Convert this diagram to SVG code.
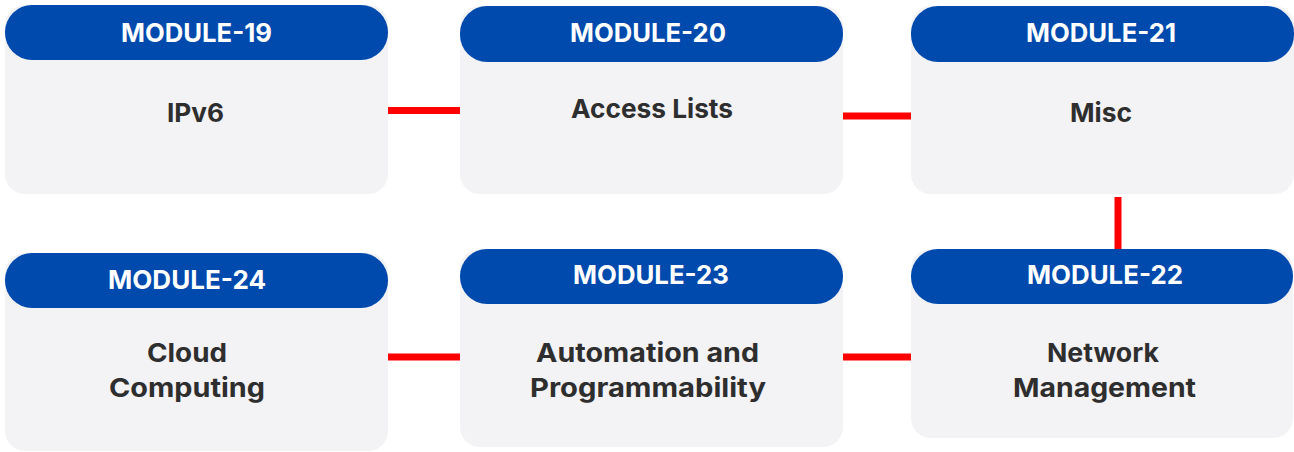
<svg xmlns="http://www.w3.org/2000/svg" width="1294" height="452" viewBox="0 0 1294 452">
<style>
.body{fill:#F3F2F5}
.head{fill:#004AAD}
.ht{font-family:Inter,"Open Sans","Liberation Sans",sans-serif;font-weight:700;font-size:26px;fill:#FFFFFF;text-anchor:middle}
.bt{font-family:Inter,"Open Sans","Liberation Sans",sans-serif;font-weight:700;font-size:26px;fill:#2E2E2E;text-anchor:middle}
.con{stroke:#FF0000;stroke-width:7;fill:none}
</style>
<rect width="1294" height="452" fill="#FFFFFF"/>
<g id="connectors">
<line class="con" x1="386" y1="110.5" x2="462" y2="110.5"/>
<line class="con" x1="841" y1="116" x2="913" y2="116"/>
<line class="con" x1="1118" y1="197" x2="1118" y2="252"/>
<line class="con" x1="841" y1="357" x2="913" y2="357"/>
<line class="con" x1="386" y1="357" x2="462" y2="357"/>
</g>
<g id="module-19">
<rect class="body" x="5" y="5" width="383" height="189" rx="20"/>
<rect class="head" x="5" y="5" width="383" height="55" rx="27"/>
<text class="ht" x="196.5" y="42" textLength="151" lengthAdjust="spacingAndGlyphs">MODULE-19</text>
<text class="bt" x="195.5" y="122" textLength="57" lengthAdjust="spacingAndGlyphs">IPv6</text>
</g>
<g id="module-20">
<rect class="body" x="460" y="6" width="383" height="188" rx="20"/>
<rect class="head" x="460" y="6" width="383" height="56" rx="27"/>
<text class="ht" x="648" y="42" textLength="156" lengthAdjust="spacingAndGlyphs">MODULE-20</text>
<text class="bt" x="652" y="118" textLength="162" lengthAdjust="spacingAndGlyphs">Access Lists</text>
</g>
<g id="module-21">
<rect class="body" x="911" y="6" width="383" height="188" rx="20"/>
<rect class="head" x="911" y="6" width="383" height="56" rx="27"/>
<text class="ht" x="1101" y="42" textLength="150" lengthAdjust="spacingAndGlyphs">MODULE-21</text>
<text class="bt" x="1101" y="122" textLength="62" lengthAdjust="spacingAndGlyphs">Misc</text>
</g>
<g id="module-22">
<rect class="body" x="911" y="249" width="382" height="189" rx="20"/>
<rect class="head" x="911" y="249" width="382" height="55" rx="27"/>
<text class="ht" x="1105" y="284" textLength="156" lengthAdjust="spacingAndGlyphs">MODULE-22</text>
<text class="bt" x="1103" y="362" textLength="112" lengthAdjust="spacingAndGlyphs">Network</text>
<text class="bt" x="1104.5" y="397" textLength="183" lengthAdjust="spacingAndGlyphs">Management</text>
</g>
<g id="module-23">
<rect class="body" x="460" y="249" width="383" height="198" rx="20"/>
<rect class="head" x="460" y="249" width="383" height="55" rx="27"/>
<text class="ht" x="651" y="284" textLength="156" lengthAdjust="spacingAndGlyphs">MODULE-23</text>
<text class="bt" x="647.5" y="362" textLength="223" lengthAdjust="spacingAndGlyphs">Automation and</text>
<text class="bt" x="648" y="397" textLength="236" lengthAdjust="spacingAndGlyphs">Programmability</text>
</g>
<g id="module-24">
<rect class="body" x="5" y="253" width="383" height="198" rx="20"/>
<rect class="head" x="5" y="253" width="383" height="55" rx="27"/>
<text class="ht" x="187" y="289" textLength="158" lengthAdjust="spacingAndGlyphs">MODULE-24</text>
<text class="bt" x="187" y="362" textLength="80" lengthAdjust="spacingAndGlyphs">Cloud</text>
<text class="bt" x="187" y="397" textLength="156" lengthAdjust="spacingAndGlyphs">Computing</text>
</g>
</svg>
